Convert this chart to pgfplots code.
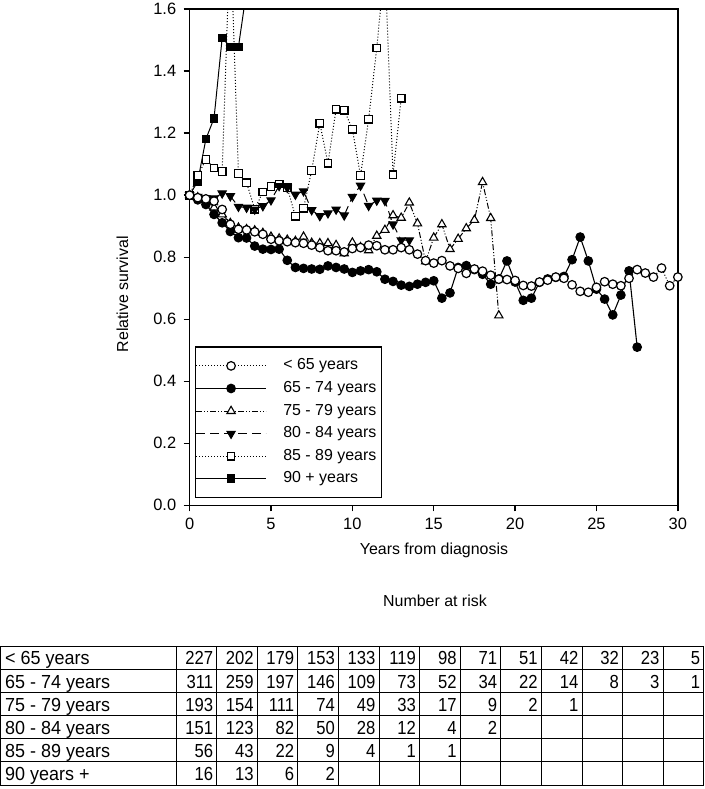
\documentclass[border=0pt]{standalone}
\usepackage{fontspec}
\setmainfont{Liberation Sans}
\newfontfamily\narrowfont[FakeStretch=0.88]{Liberation Sans}
\newfontfamily\semifont[FakeStretch=0.95]{Liberation Sans}
\usepackage{pgfplots}
\pgfplotsset{compat=1.18}
\usepackage{pgfplotstable}

\pgfplotstableread{
x y
0 1.000
0.5 0.992
1.0 0.988
1.5 0.981
2.0 0.954
2.5 0.906
3.0 0.890
3.5 0.888
4.0 0.882
4.5 0.874
5.0 0.858
5.5 0.853
6.0 0.850
6.5 0.847
7.0 0.845
7.5 0.839
8.0 0.831
8.5 0.821
9.0 0.821
9.5 0.817
10.0 0.828
10.5 0.831
11.0 0.839
11.5 0.837
12.0 0.824
12.5 0.824
13.0 0.831
13.5 0.824
14.0 0.810
14.5 0.789
15.0 0.781
15.5 0.789
16.0 0.772
16.5 0.764
17.0 0.748
17.5 0.762
18.0 0.755
18.5 0.742
19.0 0.729
19.5 0.728
20.0 0.725
20.5 0.709
21.0 0.707
21.5 0.720
22.0 0.726
22.5 0.736
23.0 0.732
23.5 0.711
24.0 0.690
24.5 0.687
25.0 0.703
25.5 0.721
26.0 0.713
26.5 0.708
27.0 0.732
27.5 0.760
28.0 0.749
28.5 0.736
29.0 0.765
29.5 0.708
30.0 0.736
}\dataA

\pgfplotstableread{
x y
0 1.000
0.5 0.985
1.0 0.970
1.5 0.938
2.0 0.911
2.5 0.883
3.0 0.863
3.5 0.862
4.0 0.836
4.5 0.826
5.0 0.825
5.5 0.826
6.0 0.790
6.5 0.767
7.0 0.764
7.5 0.762
8.0 0.761
8.5 0.772
9.0 0.767
9.5 0.762
10.0 0.751
10.5 0.756
11.0 0.760
11.5 0.753
12.0 0.729
12.5 0.722
13.0 0.710
13.5 0.706
14.0 0.713
14.5 0.719
15.0 0.724
15.5 0.668
16.0 0.685
16.5 0.767
17.0 0.773
17.5 0.760
18.0 0.745
18.5 0.713
19.0 0.730
19.5 0.788
20.0 0.720
20.5 0.661
21.0 0.668
21.5 0.719
22.0 0.730
22.5 0.735
23.0 0.738
23.5 0.792
24.0 0.865
24.5 0.788
25.0 0.697
25.5 0.665
26.0 0.614
26.5 0.678
27.0 0.756
27.5 0.510
}\dataB

\pgfplotstableread{
x y
0 1.000
0.5 0.993
1.0 0.985
1.5 0.960
2.0 0.938
2.5 0.910
3.0 0.895
3.5 0.890
4.0 0.886
4.5 0.878
5.0 0.866
5.5 0.860
6.0 0.856
6.5 0.852
7.0 0.866
7.5 0.846
8.0 0.845
8.5 0.845
9.0 0.839
9.5 0.812
10.0 0.847
10.5 0.832
11.0 0.822
11.5 0.869
12.0 0.888
12.5 0.935
13.0 0.927
13.5 0.976
14.0 0.909
14.5 0.786
15.0 0.863
15.5 0.906
16.0 0.826
16.5 0.859
17.0 0.893
17.5 0.920
18.0 1.042
18.5 0.926
19.0 0.612
}\dataC

\pgfplotstableread{
x y
0 1.000
0.5 0.995
1.0 0.990
1.5 0.990
2.0 1.006
2.5 0.997
3.0 0.963
3.5 0.960
4.0 0.954
4.5 0.965
5.0 0.984
5.5 1.030
6.0 1.024
6.5 1.002
7.0 1.013
7.5 0.952
8.0 0.933
8.5 0.942
9.0 0.954
9.5 0.935
10.0 0.995
10.5 1.031
11.0 0.966
11.5 0.983
12.0 0.982
12.5 0.906
13.0 0.855
13.5 0.855
}\dataD

\pgfplotstableread{
x y
0 1.000
0.5 1.063
1.0 1.115
1.5 1.088
2.0 1.077
2.5 1.85
3.0 1.070
3.5 1.040
4.0 0.955
4.5 1.010
5.0 1.028
5.5 1.036
6.0 1.024
6.5 0.932
7.0 0.958
7.5 1.080
8.0 1.232
8.5 1.103
9.0 1.277
9.5 1.274
10.0 1.213
10.5 1.063
11.0 1.245
11.5 1.475
12.0 1.75
12.5 1.066
13.0 1.313
}\dataE

\pgfplotstableread{
x y
0 1.000
0.5 1.045
1.0 1.181
1.5 1.248
2.0 1.507
2.5 1.478
3.0 1.478
3.5 1.66
}\dataF

\newcommand\lblfont{\fontsize{16}{19}\selectfont}
\newcommand\tickfont{\fontsize{16.5}{19}\selectfont}
\newcommand\tabfont{\narrowfont\fontsize{19}{22}\selectfont}
\newcommand\tablblfont{\semifont\fontsize{19}{22}\selectfont}

\newcommand\trow[3]{%
  \node[anchor=base west, font=\tablblfont, inner sep=0pt] at (5, {143-23.17*#1-11.58-6.8}) {#2};
  \foreach \v [count=\i] in {#3} {%
    \node[anchor=base east, font=\tabfont, inner sep=0pt] at ({177+40.77*\i-3.5}, {143-23.17*#1-11.58-6.8}) {\v};}%
}

\begin{document}
\begin{tikzpicture}
\path (0pt,0pt) rectangle (708pt,789pt);
\begin{axis}[
  at={(190.5pt,285pt)}, anchor=south west,
  scale only axis, width=490.5pt, height=498.5pt,
  xmin=0, xmax=30, ymin=0, ymax=1.6,
  xtick={0,5,10,15,20,25,30},
  ytick={0,0.2,0.4,0.6,0.8,1.0,1.2,1.4,1.6},
  xtick pos=bottom, ytick pos=left,
  tick align=outside, major tick length=6pt,
  axis line style={line width=1.4pt},
  every tick/.style={black, line width=1.4pt},
  /pgf/number format/assume math mode=true,
  tick label style={font=\tickfont},
  yticklabel style={/pgf/number format/.cd, fixed, fixed zerofill, precision=1, /tikz/.cd, xshift=-4pt},
  xticklabel style={/pgf/number format/.cd, fixed, precision=0, /tikz/.cd, yshift=-3pt},
  reverse legend,
  legend cell align=left,
  legend image code/.code={\draw[mark repeat=2,mark phase=2,#1] plot coordinates {(0pt,0pt) (35pt,0pt) (70pt,0pt)};},
  legend style={at={(axis description cs:0.0112,0.014)}, anchor=south west,
    draw=black, line width=1.2pt, fill=white,
    inner xsep=0pt, inner ysep=11pt, row sep=6.7pt, column sep=17pt,
    font=\lblfont,
    nodes={inner sep=0pt, text height=12pt, text depth=4pt}},
]
\addplot[black, line width=1pt, mark=square*, mark size=3.8pt, mark options={solid, fill=black, line width=1.2pt}] table {\dataF};
\addlegendentry{90 + years\hspace*{5.5pt}}
\addplot[black, line width=1pt, dash pattern=on 1pt off 2pt, mark=square*, mark size=3.8pt, mark options={solid, fill=white, line width=1.2pt}] table {\dataE};
\addlegendentry{85 - 89 years\hspace*{5.5pt}}
\addplot[black, line width=1pt, dash pattern=on 9pt off 5pt, mark=triangle*, mark size=4.8pt, mark options={solid, fill=black, rotate=180, line width=1pt}] table {\dataD};
\addlegendentry{80 - 84 years\hspace*{5.5pt}}
\addplot[black, line width=1pt, dash pattern=on 6pt off 2pt on 1pt off 2pt on 1pt off 2pt, mark=triangle*, mark size=4.8pt, mark options={solid, fill=white, line width=1.1pt}] table {\dataC};
\addlegendentry{75 - 79 years\hspace*{5.5pt}}
\addplot[black, line width=1.1pt, mark=*, mark size=4.3pt, mark options={solid, fill=black, line width=1.1pt}] table {\dataB};
\addlegendentry{65 - 74 years\hspace*{5.5pt}}
\addplot[black, line width=1pt, dash pattern=on 1pt off 2pt, mark=*, mark size=4.3pt, mark options={solid, fill=white, line width=1.2pt}] table {\dataA};
\addlegendentry{< 65 years\hspace*{5.5pt}}
\end{axis}
\node[rotate=90, font=\lblfont] at (123pt, 497pt) {Relative survival};
\node[anchor=base, font=\lblfont] at (436pt, 236pt) {Years from diagnosis};
\node[anchor=base, font=\lblfont] at (437pt, 183pt) {Number at risk};
\begin{scope}[x=1pt,y=1pt]
\draw[line width=1pt] (1,4) rectangle (707,143);
\foreach \yy in {119.83,96.66,73.49,50.32,27.15} \draw[line width=1pt] (1,\yy) -- (707,\yy);
\foreach \i in {0,...,12} \draw[line width=1pt] ({177+40.77*\i},4) -- ({177+40.77*\i},143);
\trow{0}{< 65 years}{227,202,179,153,133,119,98,71,51,42,32,23,5}
\trow{1}{65 - 74 years}{311,259,197,146,109,73,52,34,22,14,8,3,1}
\trow{2}{75 - 79 years}{193,154,111,74,49,33,17,9,2,1}
\trow{3}{80 - 84 years}{151,123,82,50,28,12,4,2}
\trow{4}{85 - 89 years}{56,43,22,9,4,1,1}
\trow{5}{90 years +}{16,13,6,2}
\end{scope}
\end{tikzpicture}
\end{document}
